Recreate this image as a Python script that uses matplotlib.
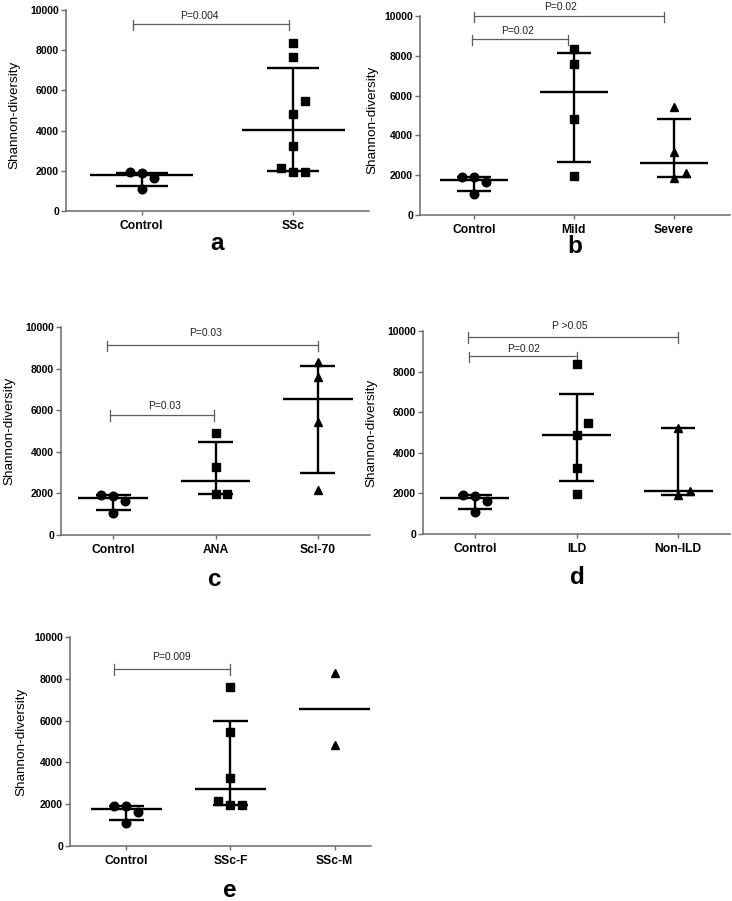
"""Shannon-diversity scatter panels (a-e): median with interquartile range."""
import matplotlib

matplotlib.use("Agg")
import matplotlib.pyplot as plt
import numpy as np
from matplotlib.transforms import offset_copy

# ---- data --------------------------------------------------------------
CONTROL = [1920, 1890, 1650, 1080]
SSC = [8370, 7640, 5480, 4850, 3240, 2160, 1930, 1960]
MILD = [8330, 7590, 4820, 1960]
SEVERE = [5410, 3150, 2090, 1880]
ANA = [4890, 3250, 1960, 1990]
SCL70 = [8320, 7580, 5450, 2150]
ILD = [8350, 5470, 4860, 3260, 1950]
NON_ILD = [5240, 2130, 1930]
SSC_F = [7610, 5440, 3250, 2170, 1950, 1980]
SSC_M = [8300, 4850]

# horizontal scatter of overlapping points, in marker widths
CONTROL_JIT = [-1, 0, 1, 0]
SSC_JIT = [0, 0, 1, 0, 0, -1, 0, 1]
MILD_JIT = [0, 0, 0, 0]
SEVERE_JIT = [0, 0, 1, 0]
ANA_JIT = [0, 0, 0, 1]
SCL70_JIT = [0, 0, 0, 0]
ILD_JIT = [0, 1, 0, 0, 0]
NON_ILD_JIT = [0, 1, 0]
SSC_F_JIT = [0, 0, 0, -1, 0, 1]
SSC_M_JIT = [0, 0]

YTICKS = [0, 2000, 4000, 6000, 8000, 10000]

W, H = 732, 901
FONT = "Liberation Sans"
AXIS_GREY = "#6b6b6b"
BRACKET_GREY = "#5c5c5c"

plt.rcParams.update({
    "font.family": [FONT, "DejaVu Sans"],
    "axes.spines.top": False,
    "axes.spines.right": False,
})


def add_panel(fig, left, top, right, bottom, xlim):
    ax = fig.add_axes([left / W, 1 - bottom / H, (right - left) / W, (bottom - top) / H])
    ax.set_xlim(*xlim)
    ax.set_ylim(0, 10000)
    for side in ("left", "bottom"):
        ax.spines[side].set_color(AXIS_GREY)
        ax.spines[side].set_linewidth(1.1)
    ax.tick_params(axis="both", colors=AXIS_GREY, width=1.0)
    ax.tick_params(axis="y", length=3.6, pad=1.5, labelsize=7.5, labelcolor="black")
    ax.tick_params(axis="x", length=3.0, pad=3.5, labelsize=8.7, labelcolor="black")
    ax.set_yticks(YTICKS)
    ax.set_yticklabels([str(t) for t in YTICKS], fontweight="bold")
    ax.set_ylabel("Shannon-diversity", fontsize=9.7)
    ax.patch.set_alpha(0)
    return ax


def draw_group(ax, fig, pos, values, jitter, marker):
    for v, j in zip(values, jitter):
        tr = offset_copy(ax.transData, fig=fig, x=j * 8.6, y=0, units="points")
        ax.plot([pos], [v], marker=marker, ms=6.2, color="black", ls="none",
                transform=tr, clip_on=False, zorder=3)
    q1, med, q3 = np.percentile(values, [25, 50, 75], method="weibull")
    ax.hlines(med, pos - 0.34, pos + 0.34, color="black", lw=1.7, zorder=4)
    if len(values) >= 3:
        ax.vlines(pos, q1, q3, color="black", lw=1.7, zorder=4)
        ax.hlines([q1, q3], pos - 0.17, pos + 0.17, color="black", lw=1.7, zorder=4)


def bracket(ax, x0, x1, y, label, tx, ty):
    ax.plot([x0, x1], [y, y], color=BRACKET_GREY, lw=0.9, clip_on=False)
    for x in (x0, x1):
        ax.plot([x, x], [y + 220, y - 300], color=BRACKET_GREY, lw=0.9, clip_on=False)
    ax.text(tx, ty, label, ha="center", va="center", fontsize=7.4, color="#222222")


def set_cats(ax, labels):
    ax.set_xticks(range(len(labels)))
    ax.set_xticklabels(labels, fontweight="bold")


fig = plt.figure(figsize=(W / 100, H / 100), dpi=100)

# a
ax = add_panel(fig, 66, 10, 369, 211, (-0.5, 1.5))
draw_group(ax, fig, 0, CONTROL, CONTROL_JIT, "o")
draw_group(ax, fig, 1, SSC, SSC_JIT, "s")
set_cats(ax, ["Control", "SSc"])
bracket(ax, -0.06, 0.97, 9300, "P=0.004", 0.38, 9680)
ax.yaxis.set_label_coords(-0.149, 0.48)

# b
ax = add_panel(fig, 420, 16, 730, 215, (-0.54, 2.56))
draw_group(ax, fig, 0, CONTROL, CONTROL_JIT, "o")
draw_group(ax, fig, 1, MILD, MILD_JIT, "s")
draw_group(ax, fig, 2, SEVERE, SEVERE_JIT, "^")
set_cats(ax, ["Control", "Mild", "Severe"])
bracket(ax, 0.0, 1.9, 10000, "P=0.02", 0.87, 10470)
bracket(ax, -0.02, 0.94, 8840, "P=0.02", 0.44, 9250)
ax.yaxis.set_label_coords(-0.135, 0.48)

# c
ax = add_panel(fig, 61, 327, 370, 535, (-0.51, 2.51))
draw_group(ax, fig, 0, CONTROL, CONTROL_JIT, "o")
draw_group(ax, fig, 1, ANA, ANA_JIT, "s")
draw_group(ax, fig, 2, SCL70, SCL70_JIT, "^")
set_cats(ax, ["Control", "ANA", "Scl-70"])
bracket(ax, -0.06, 2.0, 9130, "P=0.03", 0.9, 9730)
bracket(ax, -0.03, 0.99, 5770, "P=0.03", 0.5, 6220)
ax.yaxis.set_label_coords(-0.148, 0.5)

# d
ax = add_panel(fig, 423, 331, 730, 534, (-0.51, 2.51))
draw_group(ax, fig, 0, CONTROL, CONTROL_JIT, "o")
draw_group(ax, fig, 1, ILD, ILD_JIT, "s")
draw_group(ax, fig, 2, NON_ILD, NON_ILD_JIT, "^")
set_cats(ax, ["Control", "ILD", "Non-ILD"])
bracket(ax, -0.07, 2.0, 9720, "P >0.05", 0.93, 10230)
bracket(ax, -0.06, 1.0, 8770, "P=0.02", 0.48, 9110)
ax.yaxis.set_label_coords(-0.147, 0.5)

# e
ax = add_panel(fig, 70, 637, 371, 846, (-0.54, 2.35))
draw_group(ax, fig, 0, CONTROL, CONTROL_JIT, "o")
draw_group(ax, fig, 1, SSC_F, SSC_F_JIT, "s")
draw_group(ax, fig, 2, SSC_M, SSC_M_JIT, "^")
set_cats(ax, ["Control", "SSc-F", "SSc-M"])
bracket(ax, -0.12, 1.0, 8470, "P=0.009", 0.43, 9060)
ax.yaxis.set_label_coords(-0.143, 0.5)

# panel letters
for letter, x, y in [("a", 217, 250), ("b", 575, 253), ("c", 215, 586),
                     ("d", 577, 584), ("e", 230, 897)]:
    fig.text(x / W, 1 - y / H, letter, ha="center", va="baseline",
             fontsize=17.5, fontweight="bold")

fig.savefig("out.png", dpi=100)
